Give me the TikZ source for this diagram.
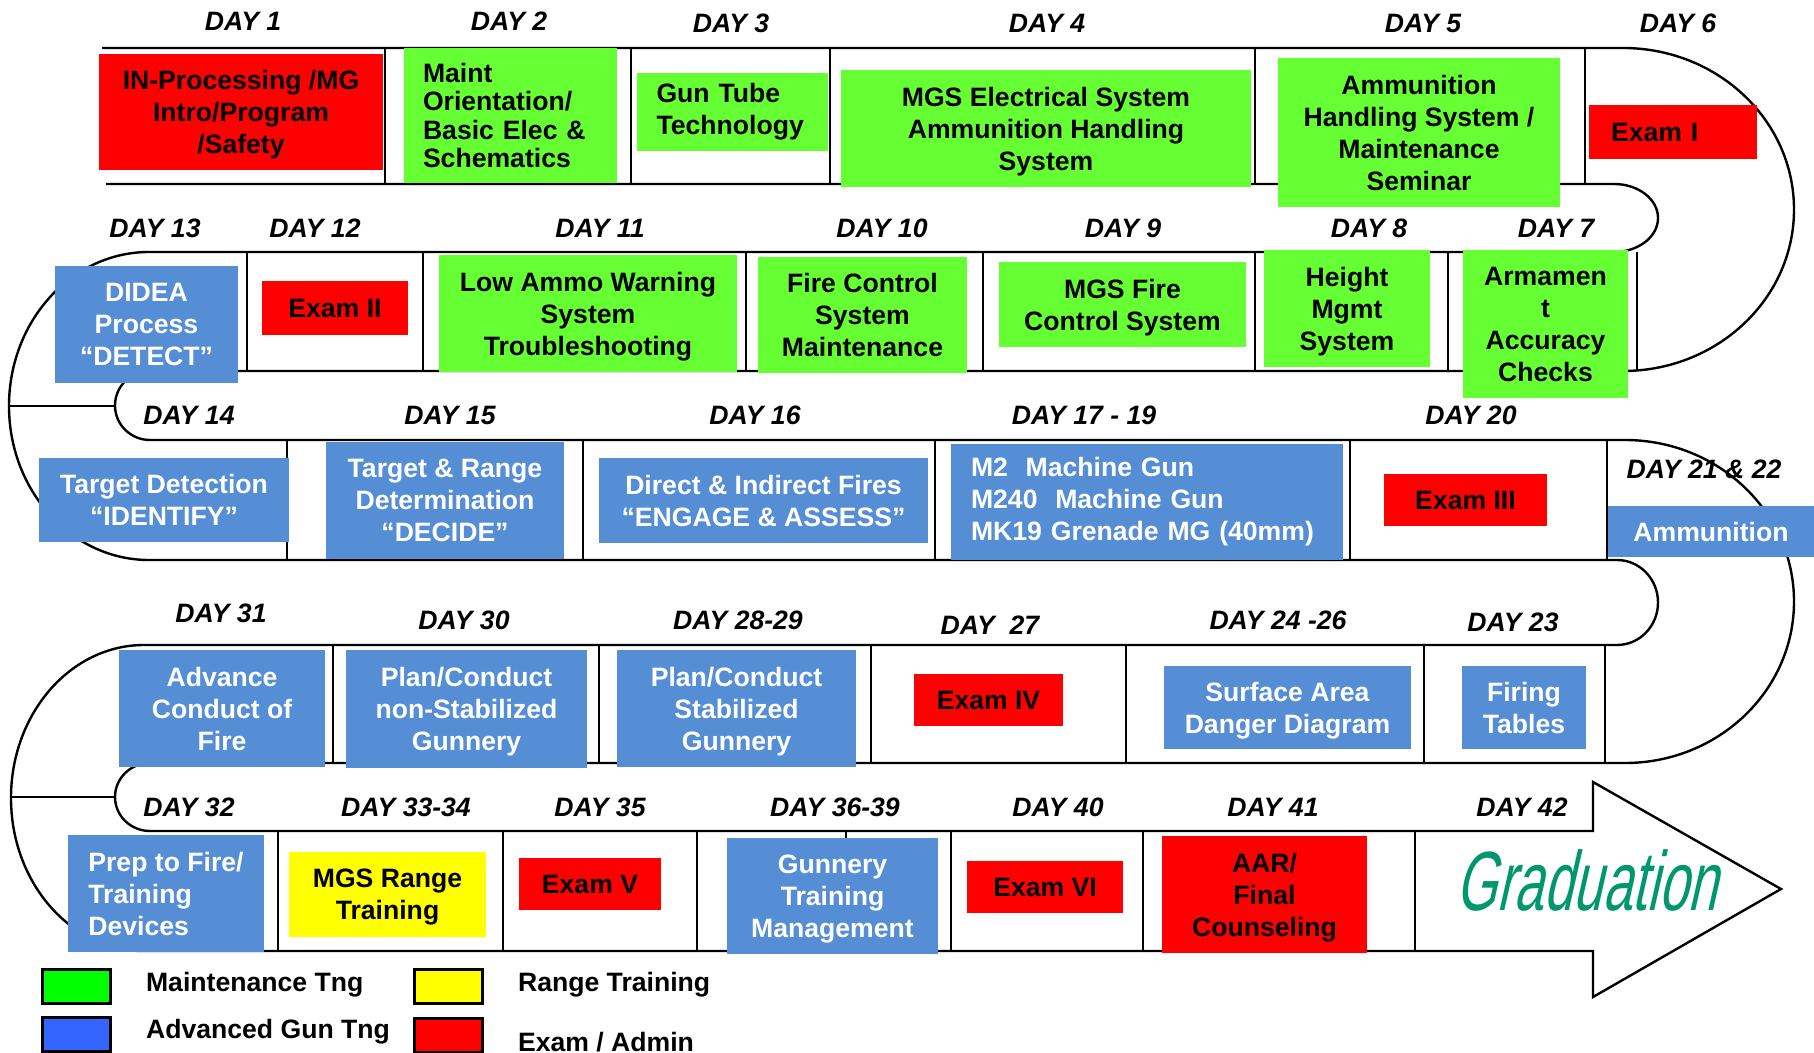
\documentclass[tikz,border=0pt]{standalone}
\usepackage{fontspec}
\setmainfont{Liberation Sans}
\newfontfamily\gradFont{Liberation Sans}[FakeSlant=0.36]
\usepackage{tikz}
\usetikzlibrary{shapes,arrows}
\definecolor{maintGreen}{RGB}{102,255,51}
\definecolor{gunBlue}{RGB}{85,142,213}
\definecolor{examRed}{RGB}{255,0,0}
\definecolor{rangeYellow}{RGB}{255,255,0}
\definecolor{keyGreen}{RGB}{0,255,0}
\definecolor{keyBlue}{RGB}{51,102,255}
\definecolor{gradGreen}{RGB}{0,150,110}
\tikzstyle{card} = [rectangle, inner sep=0pt, align=center, text depth=0pt,
    font=\fontsize{13.3}{16}\selectfont\bfseries]
\tikzstyle{leftcard} = [rectangle, inner sep=0pt, align=left,
    font=\fontsize{13.3}{16}\selectfont\bfseries]
\tikzstyle{maint} = [card, fill=maintGreen]
\tikzstyle{gun} = [card, fill=gunBlue, text=white]
\tikzstyle{exam} = [card, fill=examRed]
\tikzstyle{rangebox} = [card, fill=rangeYellow]
\tikzstyle{day} = [font=\fontsize{13.3}{16}\selectfont\bfseries\itshape]
\tikzstyle{band} = [line width=1.2pt]
\tikzstyle{divider} = [line width=1pt]
\tikzstyle{key} = [draw, line width=1.5pt, minimum width=34pt, minimum height=17pt, inner sep=0pt]
\tikzstyle{keytext} = [anchor=base west, font=\fontsize{13.3}{16}\selectfont\bfseries]

\begin{document}
\begin{tikzpicture}[x=0.5pt, y=-0.5pt]
    \useasboundingbox (0,0) rectangle (1814,1053);
    % the winding track
    \draw [band] (102,48) -- (1623,48)
        arc [start angle=-90, end angle=90, x radius=171, y radius=161.5]
        -- (150,371)
        arc [start angle=-90, end angle=-270, x radius=35, y radius=34.5]
        -- (1625,440)
        arc [start angle=-90, end angle=90, x radius=169, y radius=161.5]
        -- (150,763)
        arc [start angle=-90, end angle=-270, x radius=35, y radius=34]
        -- (1593,831) -- (1593,782) -- (1781,889) -- (1593,997) -- (1593,951)
        -- (144,951)
        arc [start angle=90, end angle=270, x radius=133, y radius=153]
        -- (1617,645)
        arc [start angle=90, end angle=-90, x radius=41, y radius=42.5]
        -- (149,560)
        arc [start angle=90, end angle=270, x radius=140, y radius=154]
        -- (1614,252)
        arc [start angle=90, end angle=-90, x radius=44, y radius=34]
        -- (106,184);
    \draw [band] (9,406) -- (115,406);
    \draw [band] (11,797) -- (115,797);
    % day separators
    \foreach \x in {385,631,830,1255,1585} \draw [divider] (\x,48) -- (\x,184);
    \foreach \x in {247,423,746,983,1255,1448,1637} \draw [divider] (\x,252) -- (\x,371);
    \foreach \x in {287,583,935,1350,1607} \draw [divider] (\x,440) -- (\x,560);
    \foreach \x in {333,599,871,1126,1424,1605} \draw [divider] (\x,645) -- (\x,763);
    \foreach \x in {278,503,697,846,951,1143,1415} \draw [divider] (\x,831) -- (\x,951);

    % row 1
    \node [exam, minimum width=142pt, minimum height=58pt] (inProc) at (241,112) {IN-Processing /MG\\Intro/Program\\/Safety};
    \node [leftcard, fill=maintGreen, font=\fontsize{13.3}{14.2}\selectfont\bfseries, text width=87.5pt, inner xsep=9.5pt, minimum height=67.5pt] (maintOrient) at (510.5,115.5) {Maint\\Orientation/\\Basic Elec \&\\Schematics};
    \node [leftcard, fill=maintGreen, text width=76pt, inner xsep=9.75pt, minimum height=39pt] (gunTube) at (732.5,112) {Gun Tube\\Technology};
    \node [maint, minimum width=205pt, minimum height=58.5pt] (mgsElec) at (1046,128.5) {MGS Electrical System\\Ammunition Handling\\System};
    \node [maint, minimum width=141pt, minimum height=74.5pt] (ammoHandling) at (1419,132.5) {Ammunition\\Handling System /\\Maintenance\\Seminar};
    \node [leftcard, fill=examRed, text width=62pt, inner xsep=11pt, minimum height=27pt] (examOne) at (1673,132) {Exam I};
    % row 2
    \node [gun, minimum width=91.5pt, minimum height=58.5pt] (didea) at (146.5,324.5) {DIDEA\\Process\\“DETECT”};
    \node [exam, minimum width=73pt, minimum height=27pt] (examTwo) at (335,308) {Exam II};
    \node [maint, minimum width=149pt, minimum height=58.5pt] (lowAmmo) at (588,313.5) {Low Ammo Warning\\System\\Troubleshooting};
    \node [maint, minimum width=104.5pt, minimum height=58pt] (fireControl) at (862.5,315) {Fire Control\\System\\Maintenance};
    \node [maint, minimum width=123.5pt, minimum height=42.5pt] (mgsFire) at (1122.5,304.5) {MGS Fire\\Control System};
    \node [maint, minimum width=83pt, minimum height=58.5pt] (heightMgmt) at (1347,308.5) {Height\\Mgmt\\System};
    \node [maint, minimum width=82.5pt, minimum height=74pt] (armament) at (1545.5,324) {Armamen\\t\\Accuracy\\Checks};
    % row 3
    \node [gun, minimum width=125pt, minimum height=42pt] (targetDetect) at (164,500) {Target Detection\\“IDENTIFY”};
    \node [gun, minimum width=119pt, minimum height=58.5pt] (targetRange) at (445,500.5) {Target \& Range\\Determination\\“DECIDE”};
    \node [gun, minimum width=164.5pt, minimum height=42.5pt] (directFires) at (763.5,500.5) {Direct \& Indirect Fires\\“ENGAGE \& ASSESS”};
    \node [leftcard, fill=gunBlue, text=white, text width=176pt, inner xsep=10pt, minimum height=58pt] (machineGuns) at (1147,501.5) {M2~~Machine Gun\\M240~~Machine Gun\\MK19 Grenade MG (40mm)};
    \node [exam, minimum width=81.5pt, minimum height=26pt] (examThree) at (1465.5,500) {Exam III};
    \node [gun, minimum width=103pt, minimum height=25.5pt] (ammunition) at (1711,531.5) {Ammunition};
    % row 4
    \node [gun, minimum width=103pt, minimum height=58.5pt] (advanceFire) at (222,708.5) {Advance\\Conduct of\\Fire};
    \node [gun, minimum width=120.5pt, minimum height=59pt] (planNonStab) at (466.5,709) {Plan/Conduct\\non-Stabilized\\Gunnery};
    \node [gun, minimum width=119.5pt, minimum height=58.5pt] (planStab) at (736.5,708.5) {Plan/Conduct\\Stabilized\\Gunnery};
    \node [exam, minimum width=74.5pt, minimum height=26pt] (examFour) at (988.5,700) {Exam IV};
    \node [gun, minimum width=123.5pt, minimum height=41.5pt] (surfaceArea) at (1287.5,707.5) {Surface Area\\Danger Diagram};
    \node [gun, minimum width=62pt, minimum height=41.5pt] (firingTables) at (1524,707.5) {Firing\\Tables};
    % row 5
    \node [leftcard, fill=gunBlue, text=white, minimum width=98pt, minimum height=58.5pt] (prepFire) at (166,893.5) {Prep to Fire/\\Training\\Devices};
    \node [rangebox, minimum width=98.5pt, minimum height=42.5pt] (mgsRange) at (387.5,894.5) {MGS Range\\Training};
    \node [exam, minimum width=71pt, minimum height=26pt] (examFive) at (590,884) {Exam V};
    \node [gun, minimum width=105.5pt, minimum height=58pt] (gunneryMgmt) at (832.5,896) {Gunnery\\Training\\Management};
    \node [exam, minimum width=78pt, minimum height=26pt] (examSix) at (1045,887) {Exam VI};
    \node [exam, minimum width=102.5pt, minimum height=58.5pt] (aarFinal) at (1264.5,894.5) {AAR/\\Final\\Counseling};
    \node [anchor=base, text=gradGreen, inner sep=0pt] (graduation) at (1586,910)
        {\scalebox{0.63}[1]{\fontsize{42}{42}\gradFont Graduation}};

    % day labels
    \node [day] (day1) at (243,21) {DAY 1};
    \node [day] (day2) at (509,21) {DAY 2};
    \node [day] (day3) at (731,23) {DAY 3};
    \node [day] (day4) at (1047,23) {DAY 4};
    \node [day] (day5) at (1423,23) {DAY 5};
    \node [day] (day6) at (1678,23) {DAY 6};
    \node [day] (day13) at (155,228) {DAY 13};
    \node [day] (day12) at (315,228) {DAY 12};
    \node [day] (day11) at (600,228) {DAY 11};
    \node [day] (day10) at (882,228) {DAY 10};
    \node [day] (day9) at (1123,228) {DAY 9};
    \node [day] (day8) at (1369,228) {DAY 8};
    \node [day] (day7) at (1556,228) {DAY 7};
    \node [day] (day14) at (189,415) {DAY 14};
    \node [day] (day15) at (450,415) {DAY 15};
    \node [day] (day16) at (755,415) {DAY 16};
    \node [day] (day17to19) at (1084,415) {DAY 17 - 19};
    \node [day] (day20) at (1471,415) {DAY 20};
    \node [day] (day21and22) at (1704,469) {DAY 21 \& 22};
    \node [day] (day31) at (221,613) {DAY 31};
    \node [day] (day30) at (464,620) {DAY 30};
    \node [day] (day28to29) at (738,620) {DAY 28-29};
    \node [day] (day27) at (990,625) {DAY~~27};
    \node [day] (day24to26) at (1278,620) {DAY 24 -26};
    \node [day] (day23) at (1513,622) {DAY 23};
    \node [day] (day32) at (189,807) {DAY 32};
    \node [day] (day33to34) at (406,807) {DAY 33-34};
    \node [day] (day35) at (600,807) {DAY 35};
    \node [day] (day36to39) at (835,807) {DAY 36-39};
    \node [day] (day40) at (1058,807) {DAY 40};
    \node [day] (day41) at (1273,807) {DAY 41};
    \node [day] (day42) at (1522,807) {DAY 42};

    % legend
    \node [key, fill=keyGreen] (keyMaint) at (76.5,986) {};
    \node [key, fill=keyBlue] (keyGun) at (76.5,1034.5) {};
    \node [key, fill=rangeYellow] (keyRange) at (448,986) {};
    \node [key, fill=examRed] (keyExam) at (448,1035) {};
    \node [keytext] (keyMaintText) at (139,991) {Maintenance Tng};
    \node [keytext] (keyGunText) at (139,1038) {Advanced Gun Tng};
    \node [keytext] (keyRangeText) at (511,991) {Range Training};
    \node [keytext] (keyExamText) at (511,1051) {Exam / Admin};
\end{tikzpicture}
\end{document}
